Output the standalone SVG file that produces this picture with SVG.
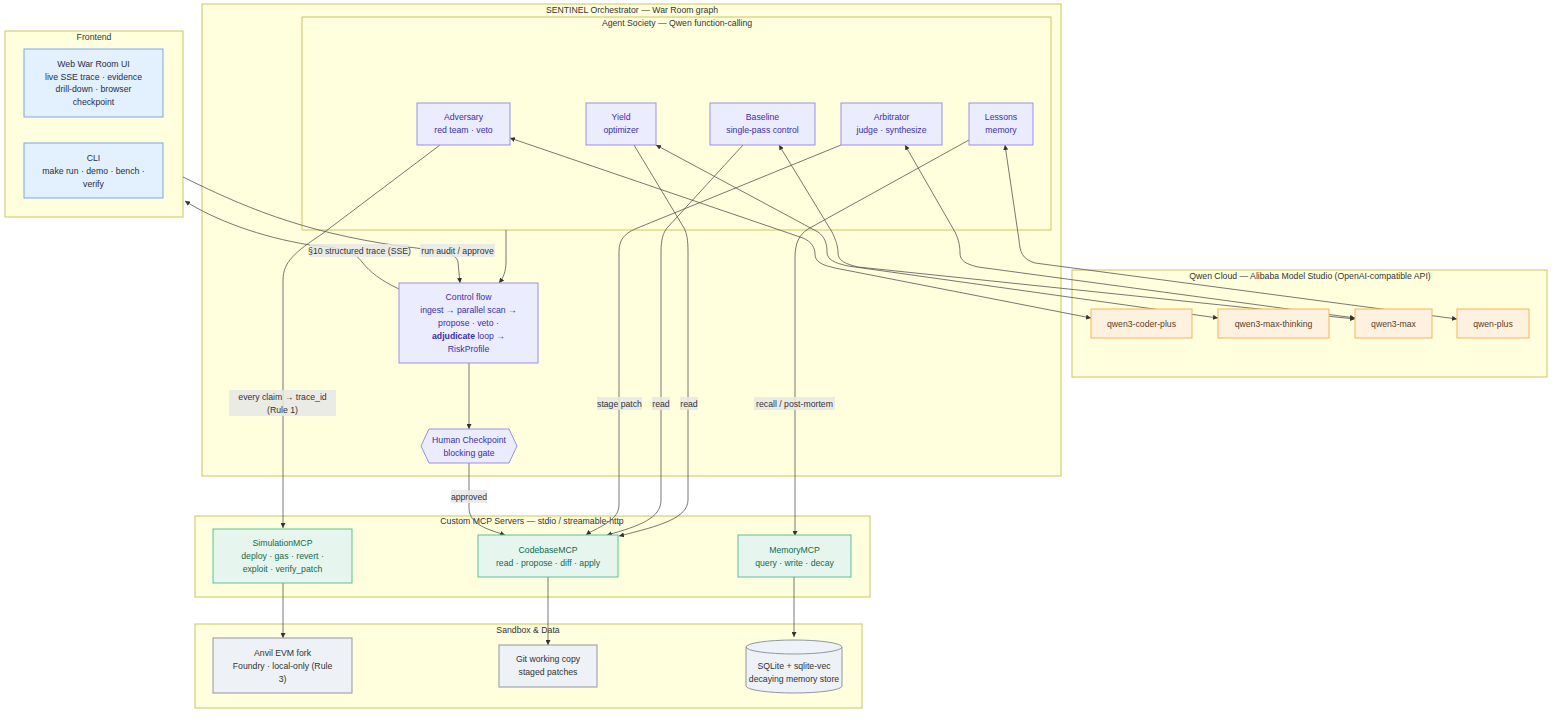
<svg xmlns="http://www.w3.org/2000/svg" width="1568" height="720" viewBox="0 0 1568 720">
<style>
text{font-family:"Liberation Sans",Arial,sans-serif;font-size:8.7px;text-anchor:middle;dominant-baseline:central;fill:#333}
.cl{fill:#ffffde;stroke:#c8c860;stroke-width:1}
.fe rect{fill:#e3f0fd;stroke:#7aa7e8;stroke-width:1}
.fe text{fill:#1f2d4d}
.ag rect,.ag polygon{fill:#ececff;stroke:#9a8fe8;stroke-width:1}
.ag text{fill:#3a2fa8}
.mc rect{fill:#e6f6ef;stroke:#5fbf98;stroke-width:1}
.mc text{fill:#116b4e}
.md rect{fill:#fff1e0;stroke:#f5b555;stroke-width:1}
.md text{fill:#5a3d1e}
.sb rect,.sb path{fill:#eef1f6;stroke:#9097a3;stroke-width:1}
.sb text{fill:#333}
.e path{fill:none;stroke:#555;stroke-width:0.8;marker-end:url(#ah)}
.e path.bi{marker-start:url(#ah)}
.lb rect{fill:#e8e8e8;opacity:0.85}
.lb text{fill:#333}
</style>
<defs>
<marker id="ah" viewBox="0 0 10 10" refX="10" refY="5" markerWidth="5" markerHeight="5" markerUnits="userSpaceOnUse" orient="auto-start-reverse"><path d="M0,0 L10,5 L0,10 z" fill="#333"/></marker>
</defs>
<rect width="1568" height="720" fill="#ffffff"/>

<g id="clusters">
<g id="cl-frontend"><rect class="cl" x="5" y="31" width="178" height="186"/><text x="94" y="37">Frontend</text></g>
<g id="cl-sentinel"><rect class="cl" x="202" y="4" width="859" height="472"/><text x="632" y="10">SENTINEL Orchestrator — War Room graph</text></g>
<g id="cl-society"><rect class="cl" x="302" y="17" width="749" height="213"/><text x="677" y="23">Agent Society — Qwen function-calling</text></g>
<g id="cl-qwen"><rect class="cl" x="1072" y="270" width="475" height="107"/><text x="1310" y="276">Qwen Cloud — Alibaba Model Studio (OpenAI-compatible API)</text></g>
<g id="cl-mcp"><rect class="cl" x="195" y="516" width="675" height="81"/><text x="532" y="521">Custom MCP Servers — stdio / streamable-http</text></g>
<g id="cl-sandbox"><rect class="cl" x="195" y="624" width="667" height="84"/><text x="528" y="630">Sandbox &amp; Data</text></g>
</g>

<g id="connectors" class="e">
<path d="M183,177 C240,205 300,232 400,246 C440,251 456,252 458,262 L460,283"/>
<path d="M399,289 C380,280 370,272 362,262 C355,252 340,247 310,245 C260,237 215,220 185,201"/>
<path d="M440,145 L322,234 C295,252 283,262 283,280 L283,528"/>
<path d="M506,230 L506,262 C506,272 503,278 499,283"/>
<path d="M469,363 L469,429"/>
<path d="M469,463 L469,508 C469,525 490,530 505,535"/>
<path d="M841,145 L635,229 C624,234 619,240 619,252 L619,505 C619,522 595,528 586,535"/>
<path d="M743,145 L667,228 C663,233 661,240 661,252 L661,500 C661,518 640,526 607,535"/>
<path d="M634,145 L684,228 C687,234 688,240 688,252 L688,500 C688,518 660,526 619,536"/>
<path d="M969,140 L808,229 C799,235 795,243 795,258 L795,536"/>
<path d="M283,583 L283,638"/>
<path d="M548,577 L548,645"/>
<path d="M794,577 L794,637"/>
<path class="bi" d="M510,138 L803,238 C812,242 815,248 815,254 C815,262 822,265 835,268 L1091,318"/>
<path class="bi" d="M656,145 L818,232 C825,237 827,244 827,252 C827,260 835,263 848,266 L1218,318"/>
<path class="bi" d="M779,145 L832,232 C836,240 838,247 838,253 C838,261 846,264 858,267 L1355,319"/>
<path class="bi" d="M905,145 L955,232 C959,240 960,247 960,253 C960,261 966,264 978,267 L1355,318"/>
<path class="bi" d="M1005,145 L1019,240 C1020,252 1022,259 1035,263 L1457,319"/>
</g>

<g id="edge-labels" class="lb">
<g><rect x="310" y="244" width="99" height="13"/><text x="359.5" y="250.5">§10 structured trace (SSE)</text></g>
<g><rect x="420" y="244" width="75" height="13"/><text x="457.5" y="250.5">run audit / approve</text></g>
<g><rect x="229" y="390" width="107" height="26"/><text x="282.5" y="396.5">every claim → trace_id</text><text x="282.5" y="409.5">(Rule 1)</text></g>
<g><rect x="597" y="397" width="45" height="13"/><text x="619.5" y="403.5">stage patch</text></g>
<g><rect x="652" y="397" width="18" height="13"/><text x="661" y="403.5">read</text></g>
<g><rect x="680" y="397" width="18" height="13"/><text x="689" y="403.5">read</text></g>
<g><rect x="754" y="397" width="81" height="13"/><text x="794.5" y="403.5">recall / post-mortem</text></g>
<g><rect x="451" y="490" width="36" height="13"/><text x="469" y="496.5">approved</text></g>
</g>

<g id="web" class="fe"><rect x="24" y="49" width="139" height="68"/><text x="93.5" y="64">Web War Room UI</text><text x="93.5" y="77">live SSE trace · evidence</text><text x="93.5" y="89">drill-down · browser</text><text x="93.5" y="102">checkpoint</text></g>
<g id="cli" class="fe"><rect x="24" y="143" width="139" height="55"/><text x="93.5" y="158">CLI</text><text x="93.5" y="171">make run · demo · bench ·</text><text x="93.5" y="184">verify</text></g>

<g id="adversary" class="ag"><rect x="417" y="103" width="93" height="42"/><text x="463.5" y="117">Adversary</text><text x="463.5" y="130">red team · veto</text></g>
<g id="yield" class="ag"><rect x="586" y="103" width="70" height="42"/><text x="621" y="117">Yield</text><text x="621" y="130">optimizer</text></g>
<g id="baseline" class="ag"><rect x="710" y="103" width="105" height="42"/><text x="762.5" y="117">Baseline</text><text x="762.5" y="130">single-pass control</text></g>
<g id="arbitrator" class="ag"><rect x="841" y="103" width="101" height="42"/><text x="891.5" y="117">Arbitrator</text><text x="891.5" y="130">judge · synthesize</text></g>
<g id="lessons" class="ag"><rect x="969" y="103" width="64" height="42"/><text x="1001" y="117">Lessons</text><text x="1001" y="130">memory</text></g>

<g id="control" class="ag"><rect x="399" y="283" width="139" height="80"/><text x="468.5" y="297">Control flow</text><text x="468.5" y="310">ingest → parallel scan →</text><text x="468.5" y="323">propose · veto ·</text><text x="468.5" y="336"><tspan font-weight="bold">adjudicate</tspan> loop →</text><text x="468.5" y="349">RiskProfile</text></g>
<g id="checkpoint" class="ag"><polygon points="421,446 429,429 509,429 517,446 509,463 429,463"/><text x="469" y="439.5">Human Checkpoint</text><text x="469" y="452.5">blocking gate</text></g>

<g id="coder" class="md"><rect x="1091" y="309" width="101" height="29"/><text x="1141.5" y="323.5">qwen3-coder-plus</text></g>
<g id="thinking" class="md"><rect x="1218" y="309" width="111" height="29"/><text x="1273.5" y="323.5">qwen3-max-thinking</text></g>
<g id="max" class="md"><rect x="1355" y="309" width="77" height="29"/><text x="1393.5" y="323.5">qwen3-max</text></g>
<g id="plus" class="md"><rect x="1457" y="309" width="72" height="29"/><text x="1493" y="323.5">qwen-plus</text></g>

<g id="simmcp" class="mc"><rect x="213" y="529" width="139" height="54"/><text x="282.5" y="543">SimulationMCP</text><text x="282.5" y="556">deploy · gas · revert ·</text><text x="282.5" y="569">exploit · verify_patch</text></g>
<g id="codemcp" class="mc"><rect x="478" y="535" width="140" height="42"/><text x="548" y="550">CodebaseMCP</text><text x="548" y="563">read · propose · diff · apply</text></g>
<g id="memmcp" class="mc"><rect x="738" y="535" width="113" height="42"/><text x="794.5" y="550">MemoryMCP</text><text x="794.5" y="563">query · write · decay</text></g>

<g id="anvil" class="sb"><rect x="213" y="638" width="139" height="55"/><text x="282.5" y="653">Anvil EVM fork</text><text x="282.5" y="666">Foundry · local-only (Rule</text><text x="282.5" y="679">3)</text></g>
<g id="git" class="sb"><rect x="499" y="645" width="98" height="42"/><text x="548" y="659">Git working copy</text><text x="548" y="672">staged patches</text></g>
<g id="sqlite" class="sb"><path d="M746,647 a48,7 0 0 0 96,0 a48,7 0 0 0 -96,0 l0,39 a48,7 0 0 0 96,0 l0,-39"/><text x="794" y="666">SQLite + sqlite-vec</text><text x="794" y="679">decaying memory store</text></g>
</svg>
